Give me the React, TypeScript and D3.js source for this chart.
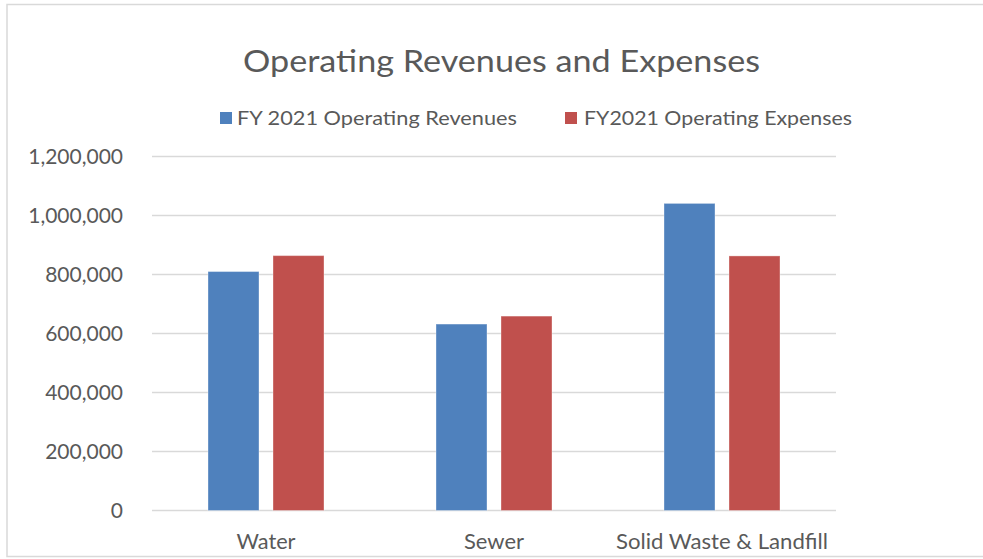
import React from "react";
import * as d3 from "d3";

const categories = ["Water", "Sewer", "Solid Waste & Landfill"];
const seriesNames = ["FY 2021 Operating Revenues", "FY2021 Operating Expenses"];
const revenues = [810000, 632000, 1041000];
const expenses = [864000, 659000, 863000];
const yTicks = [0, 200000, 400000, 600000, 800000, 1000000, 1200000];
const colors = ["#4f81bd", "#c0504d"];

const W = 983;
const H = 559;
const FONT = "Lato, 'Open Sans', 'Liberation Sans', sans-serif";
const TXT = "#595959";

export default function App() {
  const x0 = d3
    .scaleBand<string>()
    .domain(categories)
    .range([152, 836])
    .paddingInner(112 / 228)
    .paddingOuter(56 / 228);
  const x1 = d3
    .scaleBand<string>()
    .domain(seriesNames)
    .range([0, x0.bandwidth()])
    .paddingInner(14 / 65)
    .paddingOuter(0);
  const y = d3.scaleLinear().domain([0, 1200000]).range([510.5, 156.5]);
  const fmt = d3.format(",");
  const data = [revenues, expenses];

  const legendItems = [
    { x: 220, textX: 237, len: 280 },
    { x: 565, textX: 584, len: 268 },
  ];
  const catLen = [59, 60, 212];

  return (
    <svg
      width={W}
      height={H}
      style={{ position: "absolute", left: 0, top: 0, background: "#fff" }}
      fontFamily={FONT}
    >
      <rect x={7} y={4.5} width={990} height={552} fill="#fff" stroke="#d9d9d9" strokeWidth={1.5} />
      <text x={501.5} y={72} textAnchor="middle" fontSize={31} fill={TXT} textLength={517} lengthAdjust="spacingAndGlyphs">
        Operating Revenues and Expenses
      </text>
      {seriesNames.map((s, i) => (
        <g key={s}>
          <rect x={legendItems[i].x} y={112} width={12} height={12} fill={colors[i]} />
          <text x={legendItems[i].textX} y={125} fontSize={20} fill={TXT} textLength={legendItems[i].len} lengthAdjust="spacingAndGlyphs">
            {s}
          </text>
        </g>
      ))}
      {yTicks.map((t) => (
        <g key={t}>
          <line x1={152} x2={836} y1={y(t)} y2={y(t)} stroke="#d9d9d9" strokeWidth={1.4} />
          <text x={123} y={y(t) + 7.5} textAnchor="end" fontSize={21} fill={TXT}>
            {fmt(t)}
          </text>
        </g>
      ))}
      {categories.map((c, ci) => (
        <g key={c} transform={`translate(${x0(c)},0)`}>
          {seriesNames.map((s, si) => (
            <rect
              key={s}
              x={x1(s)}
              y={y(data[si][ci])}
              width={x1.bandwidth()}
              height={y(0) - y(data[si][ci])}
              fill={colors[si]}
              stroke="rgba(255,255,255,0.35)"
              strokeWidth={1}
            />
          ))}
          <text x={x0.bandwidth() / 2} y={549} textAnchor="middle" fontSize={21} fill={TXT} textLength={catLen[ci]} lengthAdjust="spacingAndGlyphs">
            {c}
          </text>
        </g>
      ))}
    </svg>
  );
}
